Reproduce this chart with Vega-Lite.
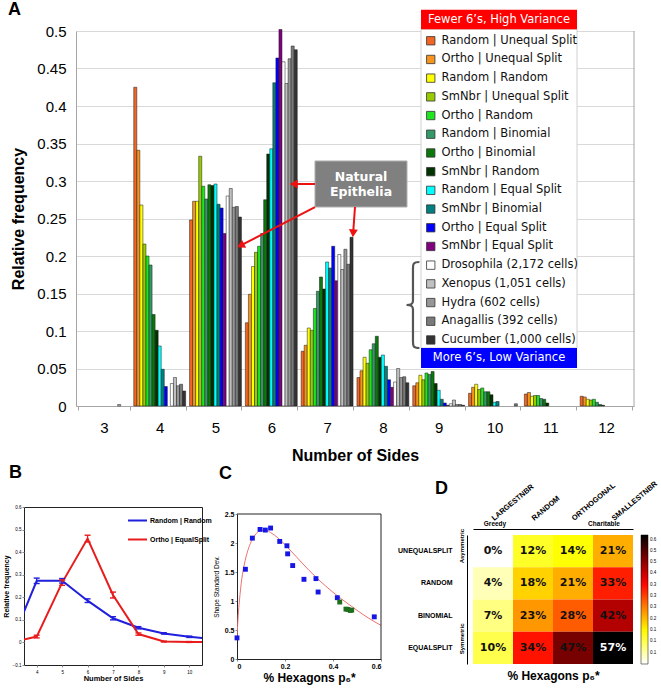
{
 "$schema": "https://vega.github.io/schema/vega-lite/v6.json",
 "background": "white",
 "padding": {"left": 1, "top": 0, "right": 2, "bottom": 2},
 "spacing": 0,
 "resolve": {"scale": {"color": "independent"}, "legend": {"color": "independent"}},
 "config": {
  "font": "Liberation Sans",
  "view": {"stroke": null},
  "axis": {"labelFont": "Liberation Sans", "titleFont": "Liberation Sans", "labelColor": "#000", "titleColor": "#000", "labelOverlap": false},
  "legend": {"labelFont": "Liberation Sans", "titleFont": "Liberation Sans"},
  "title": {"font": "Liberation Sans", "fontWeight": "bold", "fontSize": 18, "anchor": "start", "color": "#000"}
 },
 "datasets": {
  "names": [
   {"code": "RU", "series": "Random | Unequal Split"}, {"code": "OU", "series": "Ortho | Unequal Split"},
   {"code": "RR", "series": "Random | Random"}, {"code": "SU", "series": "SmNbr | Unequal Split"},
   {"code": "OR", "series": "Ortho | Random"}, {"code": "RB", "series": "Random | Binomial"},
   {"code": "OB", "series": "Ortho | Binomial"}, {"code": "SR", "series": "SmNbr | Random"},
   {"code": "RE", "series": "Random | Equal Split"}, {"code": "SB", "series": "SmNbr | Binomial"},
   {"code": "OE", "series": "Ortho | Equal Split"}, {"code": "SE", "series": "SmNbr | Equal Split"},
   {"code": "DR", "series": "Drosophila (2,172 cells)"}, {"code": "XE", "series": "Xenopus (1,051 cells)"},
   {"code": "HY", "series": "Hydra (602 cells)"}, {"code": "AN", "series": "Anagallis (392 cells)"},
   {"code": "CU", "series": "Cucumber (1,000 cells)"}
  ],
  "bars": [
   {"sides": 3, "code": "XE", "freq": 0.002},
   {"sides": 4, "code": "RU", "freq": 0.425}, {"sides": 4, "code": "OU", "freq": 0.341}, {"sides": 4, "code": "RR", "freq": 0.268}, {"sides": 4, "code": "SU", "freq": 0.216}, {"sides": 4, "code": "OR", "freq": 0.2}, {"sides": 4, "code": "RB", "freq": 0.188}, {"sides": 4, "code": "OB", "freq": 0.122}, {"sides": 4, "code": "SR", "freq": 0.101}, {"sides": 4, "code": "RE", "freq": 0.08}, {"sides": 4, "code": "SB", "freq": 0.049}, {"sides": 4, "code": "OE", "freq": 0.026}, {"sides": 4, "code": "DR", "freq": 0.03}, {"sides": 4, "code": "XE", "freq": 0.038}, {"sides": 4, "code": "HY", "freq": 0.027}, {"sides": 4, "code": "AN", "freq": 0.029}, {"sides": 4, "code": "CU", "freq": 0.02},
   {"sides": 5, "code": "RU", "freq": 0.248}, {"sides": 5, "code": "OU", "freq": 0.273}, {"sides": 5, "code": "RR", "freq": 0.273}, {"sides": 5, "code": "SU", "freq": 0.333}, {"sides": 5, "code": "OR", "freq": 0.293}, {"sides": 5, "code": "RB", "freq": 0.276}, {"sides": 5, "code": "OB", "freq": 0.295}, {"sides": 5, "code": "SR", "freq": 0.294}, {"sides": 5, "code": "RE", "freq": 0.296}, {"sides": 5, "code": "SB", "freq": 0.269}, {"sides": 5, "code": "OE", "freq": 0.264}, {"sides": 5, "code": "SE", "freq": 0.23}, {"sides": 5, "code": "DR", "freq": 0.28}, {"sides": 5, "code": "XE", "freq": 0.29}, {"sides": 5, "code": "HY", "freq": 0.265}, {"sides": 5, "code": "AN", "freq": 0.266}, {"sides": 5, "code": "CU", "freq": 0.252},
   {"sides": 6, "code": "RU", "freq": 0.111}, {"sides": 6, "code": "OU", "freq": 0.149}, {"sides": 6, "code": "RR", "freq": 0.186}, {"sides": 6, "code": "SU", "freq": 0.205}, {"sides": 6, "code": "OR", "freq": 0.213}, {"sides": 6, "code": "RB", "freq": 0.23}, {"sides": 6, "code": "OB", "freq": 0.275}, {"sides": 6, "code": "SR", "freq": 0.336}, {"sides": 6, "code": "RE", "freq": 0.343}, {"sides": 6, "code": "SB", "freq": 0.431}, {"sides": 6, "code": "OE", "freq": 0.464}, {"sides": 6, "code": "SE", "freq": 0.502}, {"sides": 6, "code": "DR", "freq": 0.459}, {"sides": 6, "code": "XE", "freq": 0.43}, {"sides": 6, "code": "HY", "freq": 0.463}, {"sides": 6, "code": "AN", "freq": 0.48}, {"sides": 6, "code": "CU", "freq": 0.475},
   {"sides": 7, "code": "RU", "freq": 0.073}, {"sides": 7, "code": "OU", "freq": 0.081}, {"sides": 7, "code": "RR", "freq": 0.104}, {"sides": 7, "code": "SU", "freq": 0.101}, {"sides": 7, "code": "OR", "freq": 0.13}, {"sides": 7, "code": "RB", "freq": 0.153}, {"sides": 7, "code": "OB", "freq": 0.172}, {"sides": 7, "code": "SR", "freq": 0.156}, {"sides": 7, "code": "RE", "freq": 0.192}, {"sides": 7, "code": "SB", "freq": 0.184}, {"sides": 7, "code": "OE", "freq": 0.213}, {"sides": 7, "code": "SE", "freq": 0.167}, {"sides": 7, "code": "DR", "freq": 0.202}, {"sides": 7, "code": "XE", "freq": 0.182}, {"sides": 7, "code": "HY", "freq": 0.209}, {"sides": 7, "code": "AN", "freq": 0.189}, {"sides": 7, "code": "CU", "freq": 0.225},
   {"sides": 8, "code": "RU", "freq": 0.038}, {"sides": 8, "code": "OU", "freq": 0.047}, {"sides": 8, "code": "RR", "freq": 0.065}, {"sides": 8, "code": "SU", "freq": 0.057}, {"sides": 8, "code": "OR", "freq": 0.075}, {"sides": 8, "code": "RB", "freq": 0.083}, {"sides": 8, "code": "OB", "freq": 0.093}, {"sides": 8, "code": "SR", "freq": 0.065}, {"sides": 8, "code": "RE", "freq": 0.068}, {"sides": 8, "code": "SB", "freq": 0.053}, {"sides": 8, "code": "OE", "freq": 0.035}, {"sides": 8, "code": "SE", "freq": 0.025}, {"sides": 8, "code": "DR", "freq": 0.032}, {"sides": 8, "code": "XE", "freq": 0.05}, {"sides": 8, "code": "HY", "freq": 0.038}, {"sides": 8, "code": "AN", "freq": 0.039}, {"sides": 8, "code": "CU", "freq": 0.031},
   {"sides": 9, "code": "RU", "freq": 0.027}, {"sides": 9, "code": "OU", "freq": 0.031}, {"sides": 9, "code": "RR", "freq": 0.041}, {"sides": 9, "code": "SU", "freq": 0.035}, {"sides": 9, "code": "OR", "freq": 0.044}, {"sides": 9, "code": "RB", "freq": 0.042}, {"sides": 9, "code": "OB", "freq": 0.046}, {"sides": 9, "code": "SR", "freq": 0.03}, {"sides": 9, "code": "RE", "freq": 0.021}, {"sides": 9, "code": "SB", "freq": 0.009}, {"sides": 9, "code": "OE", "freq": 0.004}, {"sides": 9, "code": "SE", "freq": 0.001}, {"sides": 9, "code": "DR", "freq": 0.003}, {"sides": 9, "code": "XE", "freq": 0.008}, {"sides": 9, "code": "HY", "freq": 0.002}, {"sides": 9, "code": "AN", "freq": 0.002}, {"sides": 9, "code": "CU", "freq": 0.001},
   {"sides": 10, "code": "RU", "freq": 0.017}, {"sides": 10, "code": "OU", "freq": 0.025}, {"sides": 10, "code": "RR", "freq": 0.029}, {"sides": 10, "code": "SU", "freq": 0.022}, {"sides": 10, "code": "OR", "freq": 0.024}, {"sides": 10, "code": "RB", "freq": 0.019}, {"sides": 10, "code": "OB", "freq": 0.019}, {"sides": 10, "code": "SR", "freq": 0.015}, {"sides": 10, "code": "RE", "freq": 0.005}, {"sides": 10, "code": "SB", "freq": 0.006}, {"sides": 10, "code": "AN", "freq": 0.003},
   {"sides": 11, "code": "RU", "freq": 0.016}, {"sides": 11, "code": "OU", "freq": 0.018}, {"sides": 11, "code": "RR", "freq": 0.013}, {"sides": 11, "code": "SU", "freq": 0.014}, {"sides": 11, "code": "OR", "freq": 0.014}, {"sides": 11, "code": "RB", "freq": 0.01}, {"sides": 11, "code": "OB", "freq": 0.009}, {"sides": 11, "code": "SR", "freq": 0.004},
   {"sides": 12, "code": "RU", "freq": 0.013}, {"sides": 12, "code": "OU", "freq": 0.012}, {"sides": 12, "code": "RR", "freq": 0.009}, {"sides": 12, "code": "SU", "freq": 0.008}, {"sides": 12, "code": "OR", "freq": 0.009}, {"sides": 12, "code": "RB", "freq": 0.005}, {"sides": 12, "code": "OB", "freq": 0.002}, {"sides": 12, "code": "SR", "freq": 0.001}
  ],
  "bline": [
   {"model": "Random | Random", "sides": 3, "freq": 0}, {"model": "Random | Random", "sides": 4, "freq": 0.273}, {"model": "Random | Random", "sides": 5, "freq": 0.273}, {"model": "Random | Random", "sides": 6, "freq": 0.185}, {"model": "Random | Random", "sides": 7, "freq": 0.107}, {"model": "Random | Random", "sides": 8, "freq": 0.065}, {"model": "Random | Random", "sides": 9, "freq": 0.04}, {"model": "Random | Random", "sides": 10, "freq": 0.025}, {"model": "Random | Random", "sides": 11, "freq": 0.015},
   {"model": "Ortho | EqualSplit", "sides": 3, "freq": 0}, {"model": "Ortho | EqualSplit", "sides": 4, "freq": 0.026}, {"model": "Ortho | EqualSplit", "sides": 5, "freq": 0.265}, {"model": "Ortho | EqualSplit", "sides": 6, "freq": 0.46}, {"model": "Ortho | EqualSplit", "sides": 7, "freq": 0.21}, {"model": "Ortho | EqualSplit", "sides": 8, "freq": 0.037}, {"model": "Ortho | EqualSplit", "sides": 9, "freq": 0.004}, {"model": "Ortho | EqualSplit", "sides": 10, "freq": 0.002}, {"model": "Ortho | EqualSplit", "sides": 11, "freq": 0.001}
  ],
  "berr": [
   {"model": "Random | Random", "sides": 4, "lo": 0.261, "hi": 0.285}, {"model": "Random | Random", "sides": 5, "lo": 0.263, "hi": 0.283}, {"model": "Random | Random", "sides": 6, "lo": 0.177, "hi": 0.193}, {"model": "Random | Random", "sides": 7, "lo": 0.1, "hi": 0.114}, {"model": "Random | Random", "sides": 8, "lo": 0.06, "hi": 0.07}, {"model": "Random | Random", "sides": 9, "lo": 0.037, "hi": 0.043}, {"model": "Random | Random", "sides": 10, "lo": 0.022, "hi": 0.028},
   {"model": "Ortho | EqualSplit", "sides": 4, "lo": 0.02, "hi": 0.032}, {"model": "Ortho | EqualSplit", "sides": 5, "lo": 0.253, "hi": 0.277}, {"model": "Ortho | EqualSplit", "sides": 6, "lo": 0.445, "hi": 0.475}, {"model": "Ortho | EqualSplit", "sides": 7, "lo": 0.197, "hi": 0.223}, {"model": "Ortho | EqualSplit", "sides": 8, "lo": 0.032, "hi": 0.042}, {"model": "Ortho | EqualSplit", "sides": 9, "lo": 0.002, "hi": 0.006}, {"model": "Ortho | EqualSplit", "sides": 10, "lo": 0.0, "hi": 0.004}
  ],
  "cpts": [
   {"kind": "Simulated", "p6": 0, "sd": 0.364}, {"kind": "Simulated", "p6": 0.035, "sd": 1.547}, {"kind": "Simulated", "p6": 0.064, "sd": 2.084}, {"kind": "Simulated", "p6": 0.096, "sd": 2.234}, {"kind": "Simulated", "p6": 0.118, "sd": 2.223}, {"kind": "Simulated", "p6": 0.14, "sd": 2.258}, {"kind": "Simulated", "p6": 0.178, "sd": 2.027}, {"kind": "Simulated", "p6": 0.208, "sd": 1.952}, {"kind": "Simulated", "p6": 0.211, "sd": 1.813}, {"kind": "Simulated", "p6": 0.232, "sd": 1.611}, {"kind": "Simulated", "p6": 0.279, "sd": 1.374}, {"kind": "Simulated", "p6": 0.329, "sd": 1.386}, {"kind": "Simulated", "p6": 0.338, "sd": 1.155}, {"kind": "Simulated", "p6": 0.418, "sd": 1.057}, {"kind": "Simulated", "p6": 0.572, "sd": 0.727},
   {"kind": "Natural", "p6": 0.428, "sd": 0.982}, {"kind": "Natural", "p6": 0.454, "sd": 0.86}, {"kind": "Natural", "p6": 0.462, "sd": 0.855}, {"kind": "Natural", "p6": 0.472, "sd": 0.837}, {"kind": "Natural", "p6": 0.478, "sd": 0.843}
  ],
  "cfit": [
   {"p6": 0, "sd": 0.37}, {"p6": 0.005, "sd": 0.75}, {"p6": 0.01, "sd": 1.0}, {"p6": 0.02, "sd": 1.38}, {"p6": 0.03, "sd": 1.62}, {"p6": 0.045, "sd": 1.87}, {"p6": 0.06, "sd": 2.03}, {"p6": 0.08, "sd": 2.16}, {"p6": 0.1, "sd": 2.22}, {"p6": 0.12, "sd": 2.22}, {"p6": 0.14, "sd": 2.18}, {"p6": 0.17, "sd": 2.09}, {"p6": 0.2, "sd": 1.97}, {"p6": 0.25, "sd": 1.75}, {"p6": 0.3, "sd": 1.53}, {"p6": 0.35, "sd": 1.33}, {"p6": 0.4, "sd": 1.15}, {"p6": 0.45, "sd": 0.99}, {"p6": 0.5, "sd": 0.84}, {"p6": 0.55, "sd": 0.7}, {"p6": 0.6, "sd": 0.58}
  ],
  "dheat": [
   {"division": "UnequalSplit", "plane": "LargestNbr", "p6": 0.0}, {"division": "UnequalSplit", "plane": "Random", "p6": 0.12}, {"division": "UnequalSplit", "plane": "Orthogonal", "p6": 0.14}, {"division": "UnequalSplit", "plane": "SmallestNbr", "p6": 0.21},
   {"division": "Random", "plane": "LargestNbr", "p6": 0.04}, {"division": "Random", "plane": "Random", "p6": 0.18}, {"division": "Random", "plane": "Orthogonal", "p6": 0.21}, {"division": "Random", "plane": "SmallestNbr", "p6": 0.33},
   {"division": "Binomial", "plane": "LargestNbr", "p6": 0.07}, {"division": "Binomial", "plane": "Random", "p6": 0.23}, {"division": "Binomial", "plane": "Orthogonal", "p6": 0.28}, {"division": "Binomial", "plane": "SmallestNbr", "p6": 0.42},
   {"division": "EqualSplit", "plane": "LargestNbr", "p6": 0.1}, {"division": "EqualSplit", "plane": "Random", "p6": 0.34}, {"division": "EqualSplit", "plane": "Orthogonal", "p6": 0.47}, {"division": "EqualSplit", "plane": "SmallestNbr", "p6": 0.57}
  ]
 },
 "vconcat": [
  {
   "width": 610, "height": 375,
   "resolve": {"scale": {"x": "independent"}, "axis": {"x": "independent", "y": "independent"}},
   "layer": [
    {
     "data": {"name": "bars"},
     "transform": [{"lookup": "code", "from": {"data": {"name": "names"}, "key": "code", "fields": ["series"]}}],
     "mark": {"type": "bar", "stroke": "#1a1a1a", "strokeWidth": 0.5},
     "encoding": {
      "x": {"field": "sides", "type": "ordinal", "scale": {"domain": [3, 4, 5, 6, 7, 8, 9, 10, 11, 12], "range": [52, 610], "paddingInner": 0.07, "paddingOuter": 0.035},
       "axis": {"title": "Number of Sides", "titleFontSize": 16, "titleFontWeight": "bold", "titlePadding": 12, "labelFontSize": 15, "labelAngle": 0, "labelPadding": 10, "tickBand": "extent", "tickSize": 4, "tickColor": "#a6a6a6", "domainColor": "#a6a6a6", "grid": false}},
      "xOffset": {"field": "series", "type": "nominal", "scale": {"domain": ["Random | Unequal Split", "Ortho | Unequal Split", "Random | Random", "SmNbr | Unequal Split", "Ortho | Random", "Random | Binomial", "Ortho | Binomial", "SmNbr | Random", "Random | Equal Split", "SmNbr | Binomial", "Ortho | Equal Split", "SmNbr | Equal Split", "Drosophila (2,172 cells)", "Xenopus (1,051 cells)", "Hydra (602 cells)", "Anagallis (392 cells)", "Cucumber (1,000 cells)"]}},
      "y": {"field": "freq", "type": "quantitative", "scale": {"domain": [0, 0.5], "nice": false},
       "axis": {"title": "Relative frequency", "titleFontSize": 16, "titleFontWeight": "bold", "titlePadding": 10, "labelFontSize": 15, "values": [0, 0.05, 0.1, 0.15, 0.2, 0.25, 0.3, 0.35, 0.4, 0.45, 0.5], "format": ".2~f", "ticks": false, "labelPadding": 10, "offset": -52, "grid": true, "gridColor": "#d9d9d9", "domainColor": "#a6a6a6", "labelOverlap": false}},
      "color": {"field": "series", "type": "nominal",
       "scale": {"domain": ["Random | Unequal Split", "Ortho | Unequal Split", "Random | Random", "SmNbr | Unequal Split", "Ortho | Random", "Random | Binomial", "Ortho | Binomial", "SmNbr | Random", "Random | Equal Split", "SmNbr | Binomial", "Ortho | Equal Split", "SmNbr | Equal Split", "Drosophila (2,172 cells)", "Xenopus (1,051 cells)", "Hydra (602 cells)", "Anagallis (392 cells)", "Cucumber (1,000 cells)"],
        "range": ["#f26522", "#f7941d", "#ffff00", "#99cc00", "#1ee61e", "#339966", "#0a780a", "#003300", "#00ffff", "#008080", "#0000ff", "#800080", "#ffffff", "#c0c0c0", "#969696", "#7a7a7a", "#333333"]},
       "legend": {"orient": "none", "legendX": 401, "legendY": 4, "title": null, "symbolType": "square", "symbolSize": 70, "symbolStrokeColor": "#333", "symbolStrokeWidth": 0.8, "symbolOpacity": 1, "labelFont": "DejaVu Sans", "labelFontSize": 11.5, "labelFontWeight": "normal", "labelColor": "#111", "rowPadding": 5.7, "labelOffset": 5, "padding": 0, "labelLimit": 300}}
     }
    },
    {
     "layer": [
      {"data": {"values": [{}]}, "mark": {"type": "rule", "stroke": "#a6a6a6", "strokeWidth": 1},
       "encoding": {"x": {"datum": 12.5, "type": "quantitative", "scale": {"domain": [2.5, 12.5], "range": [52, 610], "nice": false}, "axis": null},
        "y": {"datum": 0, "type": "quantitative", "scale": {"domain": [0, 0.5], "nice": false}, "axis": null}, "y2": {"datum": 0.5}}},
      {"data": {"values": [{}]}, "mark": {"type": "rect", "fill": "#ffffff", "stroke": "#d0d0d0", "strokeWidth": 1},
       "encoding": {"x": {"datum": 8.683, "type": "quantitative", "scale": {"domain": [2.5, 12.5], "range": [52, 610], "nice": false}, "axis": null}, "x2": {"datum": 11.479},
        "y": {"datum": 0.0773, "type": "quantitative", "scale": {"domain": [0, 0.5], "nice": false}, "axis": null}, "y2": {"datum": 0.5023}}},
      {"data": {"values": [{}]}, "mark": {"type": "rect", "fill": "#ff0000"},
       "encoding": {"x": {"datum": 8.683, "type": "quantitative", "scale": {"domain": [2.5, 12.5], "range": [52, 610], "nice": false}, "axis": null}, "x2": {"datum": 11.479},
        "y": {"datum": 0.5023, "type": "quantitative", "scale": {"domain": [0, 0.5], "nice": false}, "axis": null}, "y2": {"datum": 0.5284}}},
      {"data": {"values": [{}]}, "mark": {"type": "rect", "fill": "#0000ff"},
       "encoding": {"x": {"datum": 8.683, "type": "quantitative", "scale": {"domain": [2.5, 12.5], "range": [52, 610], "nice": false}, "axis": null}, "x2": {"datum": 11.479},
        "y": {"datum": 0.0507, "type": "quantitative", "scale": {"domain": [0, 0.5], "nice": false}, "axis": null}, "y2": {"datum": 0.0773}}},
      {"data": {"values": [{}]}, "mark": {"type": "text", "text": "Fewer 6’s, High Variance", "font": "DejaVu Sans", "fontSize": 11.5, "fill": "#ffffff", "align": "center", "baseline": "middle"},
       "encoding": {"x": {"datum": 10.081, "type": "quantitative", "scale": {"domain": [2.5, 12.5], "range": [52, 610], "nice": false}, "axis": null},
        "y": {"datum": 0.5153, "type": "quantitative", "scale": {"domain": [0, 0.5], "nice": false}, "axis": null}}},
      {"data": {"values": [{}]}, "mark": {"type": "text", "text": "More 6’s, Low Variance", "font": "DejaVu Sans", "fontSize": 11.5, "fill": "#ffffff", "align": "center", "baseline": "middle"},
       "encoding": {"x": {"datum": 10.081, "type": "quantitative", "scale": {"domain": [2.5, 12.5], "range": [52, 610], "nice": false}, "axis": null},
        "y": {"datum": 0.064, "type": "quantitative", "scale": {"domain": [0, 0.5], "nice": false}, "axis": null}}},
      {"data": {"values": [{}]}, "mark": {"type": "rect", "fill": "#808080", "stroke": "#b0b0b0", "strokeWidth": 1},
       "encoding": {"x": {"datum": 6.783, "type": "quantitative", "scale": {"domain": [2.5, 12.5], "range": [52, 610], "nice": false}, "axis": null}, "x2": {"datum": 8.432},
        "y": {"datum": 0.2653, "type": "quantitative", "scale": {"domain": [0, 0.5], "nice": false}, "axis": null}, "y2": {"datum": 0.3267}}},
      {"data": {"values": [{}]}, "mark": {"type": "text", "text": "Natural", "font": "DejaVu Sans", "fontWeight": "bold", "fontSize": 12.5, "fill": "#ffffff", "align": "center", "baseline": "middle"},
       "encoding": {"x": {"datum": 7.608, "type": "quantitative", "scale": {"domain": [2.5, 12.5], "range": [52, 610], "nice": false}, "axis": null},
        "y": {"datum": 0.3053, "type": "quantitative", "scale": {"domain": [0, 0.5], "nice": false}, "axis": null}}},
      {"data": {"values": [{}]}, "mark": {"type": "text", "text": "Epithelia", "font": "DejaVu Sans", "fontWeight": "bold", "fontSize": 12.5, "fill": "#ffffff", "align": "center", "baseline": "middle"},
       "encoding": {"x": {"datum": 7.608, "type": "quantitative", "scale": {"domain": [2.5, 12.5], "range": [52, 610], "nice": false}, "axis": null},
        "y": {"datum": 0.2853, "type": "quantitative", "scale": {"domain": [0, 0.5], "nice": false}, "axis": null}}},
      {"data": {"values": [{}]}, "mark": {"type": "rule", "stroke": "#ee1111", "strokeWidth": 2},
       "encoding": {"x": {"datum": 6.783, "type": "quantitative", "scale": {"domain": [2.5, 12.5], "range": [52, 610], "nice": false}, "axis": null}, "x2": {"datum": 6.44},
        "y": {"datum": 0.296, "type": "quantitative", "scale": {"domain": [0, 0.5], "nice": false}, "axis": null}, "y2": {"datum": 0.296}}},
      {"data": {"values": [{}]}, "mark": {"type": "rule", "stroke": "#ee1111", "strokeWidth": 2},
       "encoding": {"x": {"datum": 6.783, "type": "quantitative", "scale": {"domain": [2.5, 12.5], "range": [52, 610], "nice": false}, "axis": null}, "x2": {"datum": 5.48},
        "y": {"datum": 0.2653, "type": "quantitative", "scale": {"domain": [0, 0.5], "nice": false}, "axis": null}, "y2": {"datum": 0.2152}}},
      {"data": {"values": [{}]}, "mark": {"type": "rule", "stroke": "#ee1111", "strokeWidth": 2},
       "encoding": {"x": {"datum": 7.5, "type": "quantitative", "scale": {"domain": [2.5, 12.5], "range": [52, 610], "nice": false}, "axis": null}, "x2": {"datum": 7.47},
        "y": {"datum": 0.2653, "type": "quantitative", "scale": {"domain": [0, 0.5], "nice": false}, "axis": null}, "y2": {"datum": 0.234}}},
      {"data": {"values": [{}]}, "mark": {"type": "point", "shape": "triangle", "filled": true, "color": "#ee1111", "size": 80, "opacity": 1, "angle": 270},
       "encoding": {"x": {"datum": 6.425, "type": "quantitative", "scale": {"domain": [2.5, 12.5], "range": [52, 610], "nice": false}, "axis": null},
        "y": {"datum": 0.296, "type": "quantitative", "scale": {"domain": [0, 0.5], "nice": false}, "axis": null}}},
      {"data": {"values": [{}]}, "mark": {"type": "point", "shape": "triangle", "filled": true, "color": "#ee1111", "size": 80, "opacity": 1, "angle": 242},
       "encoding": {"x": {"datum": 5.471, "type": "quantitative", "scale": {"domain": [2.5, 12.5], "range": [52, 610], "nice": false}, "axis": null},
        "y": {"datum": 0.2148, "type": "quantitative", "scale": {"domain": [0, 0.5], "nice": false}, "axis": null}}},
      {"data": {"values": [{}]}, "mark": {"type": "point", "shape": "triangle", "filled": true, "color": "#ee1111", "size": 80, "opacity": 1, "angle": 184},
       "encoding": {"x": {"datum": 7.468, "type": "quantitative", "scale": {"domain": [2.5, 12.5], "range": [52, 610], "nice": false}, "axis": null},
        "y": {"datum": 0.232, "type": "quantitative", "scale": {"domain": [0, 0.5], "nice": false}, "axis": null}}},
      {"data": {"values": [{}]}, "mark": {"type": "point", "shape": "M0.15,-1 C0,-1 0,-0.95 0,-0.85 L0,-0.1 C0,-0.02 -0.05,0 -0.15,0 C-0.05,0 0,0.02 0,0.1 L0,0.85 C0,0.95 0,1 0.15,1", "filled": false, "stroke": "#555555", "strokeWidth": 2.2, "size": 7396, "opacity": 1},
       "encoding": {"x": {"datum": 8.539, "type": "quantitative", "scale": {"domain": [2.5, 12.5], "range": [52, 610], "nice": false}, "axis": null},
        "y": {"datum": 0.1347, "type": "quantitative", "scale": {"domain": [0, 0.5], "nice": false}, "axis": null}}},
      {"data": {"values": [{}]}, "mark": {"type": "text", "text": "A", "font": "Liberation Sans", "fontWeight": "bold", "fontSize": 18, "fill": "#000", "align": "center", "baseline": "middle"},
       "encoding": {"x": {"datum": 1.398, "type": "quantitative", "scale": {"domain": [2.5, 12.5], "range": [52, 610], "nice": false}, "axis": null},
        "y": {"datum": 0.528, "type": "quantitative", "scale": {"domain": [0, 0.5], "nice": false}, "axis": null}}}
     ]
    }
   ]
  },
  {
   "spacing": 0,
   "resolve": {"scale": {"color": "independent"}, "legend": {"color": "independent"}},
   "hconcat": [
    {
     "width": 178, "height": 158,
     "title": {"text": "B", "frame": "group", "dx": -15, "offset": 8, "baseline": "alphabetic"},
     "view": {"stroke": "#222"},
     "resolve": {"axis": {"x": "independent", "y": "independent"}},
     "layer": [
      {"data": {"name": "bline"}, "mark": {"type": "line", "clip": true, "strokeWidth": 2},
       "encoding": {
        "x": {"field": "sides", "type": "quantitative", "scale": {"domain": [3.5, 10.5], "nice": false},
         "axis": {"title": "Number of Sides", "titleFontSize": 7.5, "titleFontWeight": "bold", "titlePadding": 1, "values": [4, 5, 6, 7, 8, 9, 10], "format": "d", "labelFontSize": 4.5, "tickSize": 2, "labelPadding": 2, "grid": false, "domain": false, "labelOverlap": false}},
        "y": {"field": "freq", "type": "quantitative", "scale": {"domain": [-0.1, 0.6], "nice": false},
         "axis": {"title": "Relative frequency", "titleFontSize": 7, "titleFontWeight": "bold", "titlePadding": 3, "values": [-0.1, 0, 0.1, 0.2, 0.3, 0.4, 0.5, 0.6], "format": "~g", "labelFontSize": 4.5, "tickSize": 2, "labelPadding": 1, "grid": false, "domain": false, "labelOverlap": false}},
        "color": {"field": "model", "type": "nominal", "scale": {"domain": ["Random | Random", "Ortho | EqualSplit"], "range": ["#1f1fdc", "#e81c1c"]},
         "legend": {"orient": "none", "legendX": 103, "legendY": 3, "title": null, "symbolType": "stroke", "symbolStrokeWidth": 2, "symbolSize": 361, "labelFontSize": 7, "labelFontWeight": "bold", "labelOffset": 2, "rowPadding": 4, "padding": 0, "labelLimit": 200}}
       }},
      {"data": {"name": "berr"}, "mark": {"type": "rule", "strokeWidth": 1.3},
       "encoding": {"x": {"field": "sides", "type": "quantitative", "axis": null}, "y": {"field": "lo", "type": "quantitative", "axis": null}, "y2": {"field": "hi"},
        "color": {"field": "model", "type": "nominal", "legend": null}}},
      {"data": {"name": "berr"}, "transform": [{"fold": ["lo", "hi"], "as": ["end", "val"]}],
       "mark": {"type": "tick", "orient": "horizontal", "size": 6, "thickness": 1.4, "opacity": 1},
       "encoding": {"x": {"field": "sides", "type": "quantitative", "axis": null}, "y": {"field": "val", "type": "quantitative", "axis": null},
        "color": {"field": "model", "type": "nominal", "legend": null}}}
     ]
    },
    {
     "spacing": 15,
     "resolve": {"scale": {"color": "independent"}, "legend": {"color": "independent"}},
     "hconcat": [
      {
       "width": 144, "height": 152,
       "title": {"text": "C", "frame": "group", "dx": -18, "offset": 10, "baseline": "alphabetic"},
       "resolve": {"axis": {"x": "independent", "y": "independent"}},
       "layer": [
        {"data": {"name": "cfit"}, "mark": {"type": "line", "color": "#f07070", "strokeWidth": 1, "interpolate": "monotone", "clip": true},
         "encoding": {
          "x": {"field": "p6", "type": "quantitative", "scale": {"domain": [0, 0.6], "nice": false},
           "axis": {"title": "% Hexagons p₆*", "titleFontSize": 12, "titleFontWeight": "bold", "titlePadding": 3, "values": [0, 0.2, 0.4, 0.6], "format": "~g", "labelFontSize": 7, "labelFontWeight": "bold", "tickSize": 2, "labelPadding": 1, "grid": false, "domain": true, "domainColor": "#222", "labelOverlap": false}},
          "y": {"field": "sd", "type": "quantitative", "scale": {"domain": [0, 2.5], "range": [152, 7], "nice": false},
           "axis": {"title": "Shape Standard Dev.", "titleFontSize": 6.5, "titleFontWeight": "normal", "titlePadding": 5, "values": [0, 0.5, 1, 1.5, 2, 2.5], "format": "~g", "labelFontSize": 7, "labelFontWeight": "bold", "tickSize": 2, "labelPadding": 1, "grid": false, "domain": true, "domainColor": "#222", "labelOverlap": false}}
         }},
        {"data": {"values": [{}]}, "mark": {"type": "rule", "stroke": "#222", "strokeWidth": 1},
         "encoding": {"x": {"datum": 0, "type": "quantitative", "axis": null}, "x2": {"datum": 0.6}, "y": {"datum": 2.5, "type": "quantitative", "axis": null}}},
        {"data": {"values": [{}]}, "mark": {"type": "rule", "stroke": "#222", "strokeWidth": 1},
         "encoding": {"x": {"datum": 0.6, "type": "quantitative", "axis": null}, "y": {"datum": 0, "type": "quantitative", "axis": null}, "y2": {"datum": 2.5}}},
        {"data": {"name": "cpts"}, "mark": {"type": "square", "size": 24, "opacity": 1},
         "encoding": {"x": {"field": "p6", "type": "quantitative", "axis": null}, "y": {"field": "sd", "type": "quantitative", "axis": null},
          "color": {"field": "kind", "type": "nominal", "scale": {"domain": ["Simulated", "Natural"], "range": ["#1515e6", "#1e6e1e"]}, "legend": null}}}
       ]
      },
      {
       "width": 160, "height": 157,
       "title": {"text": "D", "frame": "group", "dx": -38, "offset": -32, "baseline": "alphabetic"},
       "resolve": {"axis": {"x": "independent"}},
       "layer": [
        {"data": {"name": "dheat"}, "mark": {"type": "rect"},
         "encoding": {
          "x": {"field": "plane", "type": "nominal", "sort": ["LargestNbr", "Random", "Orthogonal", "SmallestNbr"],
           "axis": {"orient": "top", "title": null, "offset": -22, "domain": true, "domainColor": "#000", "ticks": false, "labelAngle": -40, "labelAlign": "left", "labelBaseline": "middle", "labelPadding": 10, "labelFontSize": 7.5, "labelFontWeight": "bold", "labelExpr": "upper(datum.label)", "labelOverlap": false}},
          "y": {"field": "division", "type": "nominal", "sort": ["UnequalSplit", "Random", "Binomial", "EqualSplit"], "scale": {"range": [28, 157]},
           "axis": {"title": null, "offset": 6, "domain": true, "domainColor": "#000", "ticks": false, "labelPadding": 15, "labelFontSize": 7, "labelFontWeight": "bold", "labelExpr": "upper(datum.label)", "labelOverlap": false}},
          "color": {"field": "p6", "type": "quantitative",
           "scale": {"domain": [0, 0.1425, 0.35625, 0.57], "range": ["#ffffff", "#ffff00", "#ff0000", "#000000"], "interpolate": "rgb"},
           "legend": {"orient": "none", "legendX": 168, "legendY": 28, "title": null, "direction": "vertical", "gradientLength": 129, "gradientThickness": 7, "labelFontSize": 4.5, "values": [0.05, 0.1, 0.15, 0.2, 0.25, 0.3, 0.35, 0.4, 0.45, 0.5, 0.55], "gradientStrokeColor": "#000", "gradientStrokeWidth": 0.5, "labelOverlap": false, "padding": 0}}
         }},
        {"data": {"name": "dheat"}, "mark": {"type": "text", "font": "DejaVu Sans", "fontWeight": "bold", "fontSize": 11},
         "encoding": {
          "x": {"field": "plane", "type": "nominal", "sort": ["LargestNbr", "Random", "Orthogonal", "SmallestNbr"],
           "axis": {"orient": "bottom", "title": "% Hexagons p₆*", "titleFontSize": 12, "titleFontWeight": "bold", "labels": false, "ticks": false, "domain": false, "titlePadding": 6}},
          "y": {"field": "division", "type": "nominal", "sort": ["UnequalSplit", "Random", "Binomial", "EqualSplit"]},
          "text": {"field": "p6", "type": "quantitative", "format": ".0%"},
          "color": {"condition": {"test": "datum.p6 > 0.5", "value": "#ffffff"}, "value": "#111111"}
         }},
        {"data": {"values": [{}]}, "mark": {"type": "text", "text": "Greedy", "fontSize": 6.5, "fontWeight": "bold", "dy": -27, "dx": 2},
         "encoding": {"x": {"datum": "LargestNbr", "type": "nominal", "axis": null}, "y": {"datum": "UnequalSplit", "type": "nominal"}}},
        {"data": {"values": [{}]}, "mark": {"type": "text", "text": "Charitable", "fontSize": 6.5, "fontWeight": "bold", "dy": -27, "dx": -9},
         "encoding": {"x": {"datum": "SmallestNbr", "type": "nominal", "axis": null}, "y": {"datum": "UnequalSplit", "type": "nominal"}}},
        {"data": {"values": [{}]}, "mark": {"type": "text", "text": "Asymmetric", "fontSize": 6, "fontWeight": "bold", "angle": 270, "dx": 5, "dy": -31},
         "encoding": {"x": {"datum": "LargestNbr", "type": "nominal", "axis": null}, "y": {"datum": "UnequalSplit", "type": "nominal"}}},
        {"data": {"values": [{}]}, "mark": {"type": "text", "text": "Symmetric", "fontSize": 6, "fontWeight": "bold", "angle": 270, "dx": 9, "dy": -31},
         "encoding": {"x": {"datum": "LargestNbr", "type": "nominal", "axis": null}, "y": {"datum": "EqualSplit", "type": "nominal"}}}
       ]
      }
     ]
    }
   ]
  }
 ]
}
